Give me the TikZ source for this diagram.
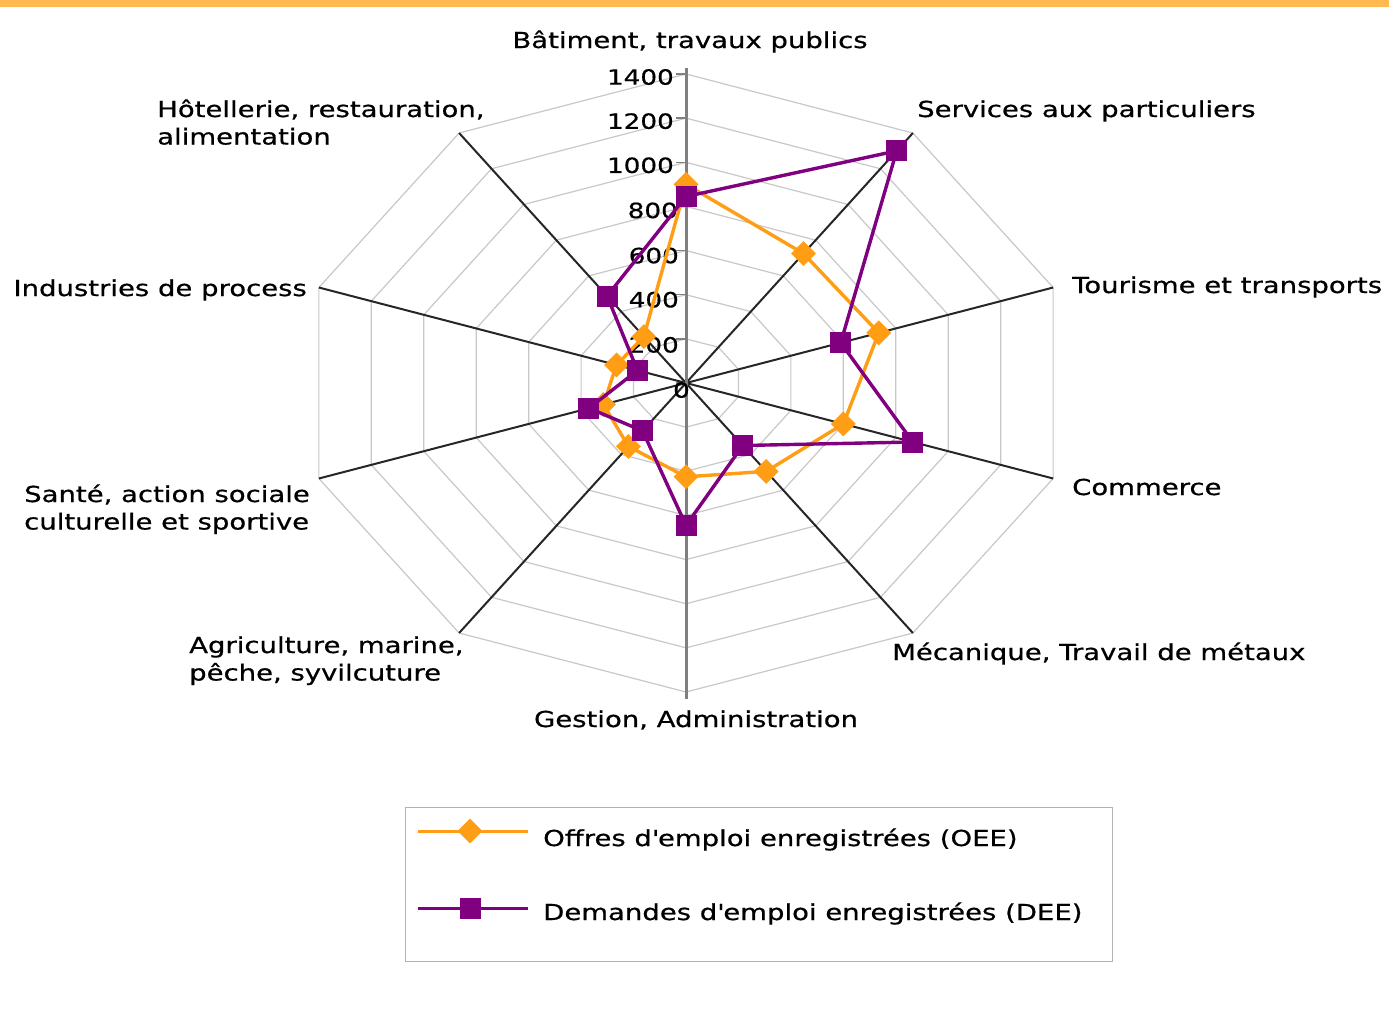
\documentclass[tikz,border=0pt]{standalone}
\usepackage{fontspec}
\setmainfont{DejaVu Sans}[FakeStretch=1.25,FakeBold=0.6]
\usetikzlibrary{shapes.geometric}
\definecolor{oee}{RGB}{255,157,20}
\definecolor{dee}{RGB}{128,0,128}
\definecolor{topbar}{RGB}{255,185,80}
\definecolor{gridc}{RGB}{200,200,200}
\def\cx{686}\def\cy{383}\def\rx{386}\def\ry{309}
\begin{document}
\begin{tikzpicture}[x=1pt,y=-1pt,
  lbl/.style={font=\fontsize{22}{27.5}\selectfont, inner sep=0pt, text=black},
  ticklbl/.style={font=\fontsize{21}{25}\selectfont, inner sep=0pt, anchor=east, text=black},
  gridline/.style={draw=gridc, line width=1.2pt},
  axisline/.style={draw=black!85, line width=2pt},
  valaxis/.style={draw=black!50, line width=3pt},
  tickline/.style={draw=black!50, line width=1.5pt},
  oeeline/.style={draw=oee, line width=3.4pt, line join=round},
  deeline/.style={draw=dee, line width=3.4pt, line join=round},
  oeemark/.style={diamond, fill=oee, inner sep=0pt, minimum width=25pt, minimum height=25pt},
  deemark/.style={rectangle, fill=dee, inner sep=0pt, minimum size=21pt},
  legbox/.style={draw=black!30, line width=1.2pt, inner sep=0pt}
]
\useasboundingbox (0,0) rectangle (1389,1013);
\fill[white] (0,0) rectangle (1389,1013);
\fill[topbar] (0,0) rectangle (1389,7);

% grid coordinates
\coordinate (c) at (\cx,\cy);
\foreach \i in {0,...,9}{
  \foreach \k in {1,...,7}{
    \coordinate (g\i-\k) at ({\cx+\k*200/1400*\rx*cos(90-36*\i)},{\cy-\k*200/1400*\ry*sin(90-36*\i)});
  }
}
% grid polygons
\foreach \k in {1,...,7}{
  \draw[gridline] (g0-\k) -- (g1-\k) -- (g2-\k) -- (g3-\k) -- (g4-\k) -- (g5-\k) -- (g6-\k) -- (g7-\k) -- (g8-\k) -- (g9-\k) -- cycle;
}
% axes
\foreach \i in {1,2,3,4,6,7,8,9}{
  \draw[axisline] (c) -- (g\i-7);
}
\coordinate (vtop) at (\cx,68);
\coordinate (vbot) at (\cx,699);
\draw[valaxis] (vtop) -- (vbot);
\foreach \k in {0,...,7}{
  \coordinate (tk\k) at (\cx-10,{\cy-\k*200/1400*\ry});
  \coordinate (tkb\k) at (\cx,{\cy-\k*200/1400*\ry});
  \draw[tickline] (tk\k) -- (tkb\k);
}
% tick labels
\node[ticklbl] (t0) at (690,{\cy+7}) {0};
\node[ticklbl] (t1) at (679,{\cy-1*44.14+6}) {200};
\node[ticklbl] (t2) at (679,{\cy-2*44.14+5}) {400};
\node[ticklbl] (t3) at (679,{\cy-3*44.14+5}) {600};
\node[ticklbl] (t4) at (678,{\cy-4*44.14+4}) {800};
\node[ticklbl] (t5) at (674,{\cy-5*44.14+3}) {1000};
\node[ticklbl] (t6) at (674,{\cy-6*44.14+3}) {1200};
\node[ticklbl] (t7) at (674,{\cy-7*44.14+3}) {1400};

% data points
\foreach \i/\v in {0/900,1/725,2/735,3/600,4/495,5/425,6/355,7/315,8/265,9/260}{
  \coordinate (o\i) at ({\cx+\v/1400*\rx*cos(90-36*\i)},{\cy-\v/1400*\ry*sin(90-36*\i)});
}
\foreach \i/\v in {0/845,1/1300,2/590,3/865,4/350,5/645,6/268,7/370,8/185,9/487}{
  \coordinate (d\i) at ({\cx+\v/1400*\rx*cos(90-36*\i)},{\cy-\v/1400*\ry*sin(90-36*\i)});
}
\draw[oeeline] (o0) -- (o1) -- (o2) -- (o3) -- (o4) -- (o5) -- (o6) -- (o7) -- (o8) -- (o9) -- cycle;
\foreach \i in {0,...,9}{ \node[oeemark] (om\i) at (o\i) {}; }
\draw[deeline] (d0) -- (d1) -- (d2) -- (d3) -- (d4) -- (d5) -- (d6) -- (d7) -- (d8) -- (d9) -- cycle;
\foreach \i in {0,...,9}{ \node[deemark] (dm\i) at (d\i) {}; }

% category labels
\node[lbl, anchor=base] (lb0) at (690,48) {Bâtiment, travaux publics};
\node[lbl, anchor=base west] (lb1) at (917,117) {Services aux particuliers};
\node[lbl, anchor=base west] (lb2) at (1072,293) {Tourisme et transports};
\node[lbl, anchor=base west] (lb3) at (1072,495) {Commerce};
\node[lbl, anchor=base west] (lb4) at (892,660) {Mécanique, Travail de métaux};
\node[lbl, anchor=base] (lb5) at (696,727) {Gestion, Administration};
\node[lbl, anchor=base west] (lb6) at (189,653) {\begin{tabular}[t]{@{}l@{}}Agriculture, marine,\\pêche, syvilcuture\end{tabular}};
\node[lbl, anchor=base west] (lb7) at (24,502) {\begin{tabular}[t]{@{}l@{}}Santé, action sociale\\culturelle et sportive\end{tabular}};
\node[lbl, anchor=base east] (lb8) at (307,296) {Industries de process};
\node[lbl, anchor=base west] (lb9) at (157,117) {\begin{tabular}[t]{@{}l@{}}Hôtellerie, restauration,\\alimentation\end{tabular}};

% legend
\node[legbox, minimum width=707pt, minimum height=154pt, anchor=north west] (leg) at (405,807) {};
\coordinate (la1) at (418,831);
\coordinate (lb1e) at (528,831);
\draw[oeeline, line width=3pt] (la1) -- (lb1e);
\node[oeemark] (lm1) at (470,831) {};
\node[lbl, anchor=base west] (lt1) at (543,846) {Offres d\textquotesingle emploi enregistrées (OEE)};
\coordinate (la2) at (418,908);
\coordinate (lb2e) at (528,908);
\draw[deeline, line width=3pt] (la2) -- (lb2e);
\node[deemark] (lm2) at (470,908) {};
\node[lbl, anchor=base west] (lt2) at (543,920) {Demandes d\textquotesingle emploi enregistrées (DEE)};
\end{tikzpicture}
\end{document}
